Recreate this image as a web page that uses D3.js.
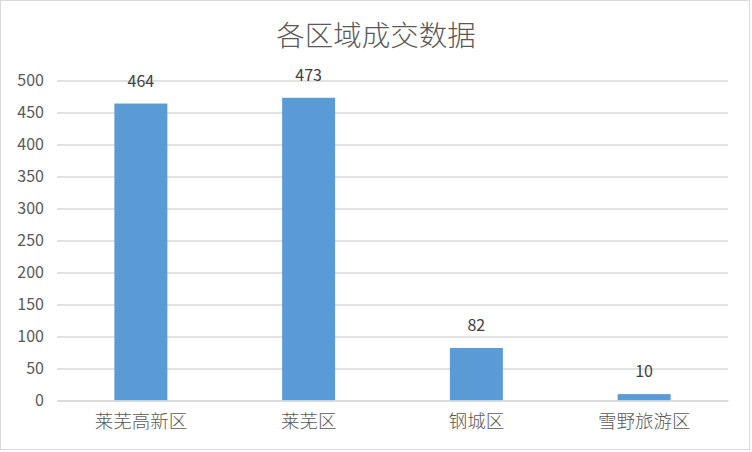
<!DOCTYPE html>
<html><head><meta charset="utf-8">
<script src="https://cdn.jsdelivr.net/npm/d3@7/dist/d3.min.js"></script>
<style>
html,body{margin:0;padding:0;background:#fff;}
text{font-family:"Noto Sans CJK SC","Noto Sans",sans-serif;}
</style></head>
<body><svg id="c" width="752" height="452"></svg>
<script>
const title = "各区域成交数据";
const categories = ["莱芜高新区","莱芜区","钢城区","雪野旅游区"];
const values = [464, 473, 82, 10];
const yTicks = [0,50,100,150,200,250,300,350,400,450,500];

const svg = d3.select("#c");
svg.append("rect").attr("x",0.5).attr("y",0.5).attr("width",749).attr("height",449)
  .attr("fill","#fff").attr("stroke","#d9d9d9");

const x = d3.scaleBand().domain(categories).range([57,728]).paddingInner(0.684).paddingOuter(0.342);
const y = d3.scaleLinear().domain([0,500]).range([400.5,80.5]);

svg.append("text").attr("x",376).attr("y",45.5).attr("text-anchor","middle")
  .attr("font-size",28.5).attr("font-weight",300).attr("fill","#595959").text(title);

const yAxis = d3.axisLeft(y).tickValues(yTicks).tickSize(-(728-57)).tickPadding(13);
const gy = svg.append("g").attr("transform","translate(57,0)").call(yAxis);
gy.select(".domain").remove();
gy.selectAll(".tick line").attr("stroke","#d9d9d9").attr("stroke-width",1.3);
gy.selectAll(".tick text").attr("font-size",16).attr("fill","#595959")
  .attr("font-family","Calibri,Carlito,'Liberation Sans',sans-serif");

svg.selectAll("rect.bar").data(values).join("rect").attr("class","bar")
  .attr("x",(d,i)=>x(categories[i])).attr("width",x.bandwidth())
  .attr("y",d=>y(d)).attr("height",d=>y(0)-y(d)).attr("fill","#5b9bd5");

svg.selectAll("text.lbl").data(values).join("text").attr("class","lbl")
  .attr("x",(d,i)=>x(categories[i])+x.bandwidth()/2).attr("y",d=>y(d)-17)
  .attr("text-anchor","middle").attr("font-size",16).attr("fill","#404040")
  .attr("font-family","Calibri,Carlito,'Liberation Sans',sans-serif")
  .text(d=>d);

const xAxis = d3.axisBottom(x).tickSize(0).tickPadding(14);
const gx = svg.append("g").attr("transform","translate(0,400.5)").call(xAxis);
gx.select(".domain").attr("stroke","#d9d9d9").attr("stroke-width",1.3);
gx.selectAll(".tick text").attr("font-size",18.5).attr("font-weight",300).attr("fill","#595959")
  .attr("font-family","'Noto Sans CJK SC',sans-serif");
</script></body></html>
